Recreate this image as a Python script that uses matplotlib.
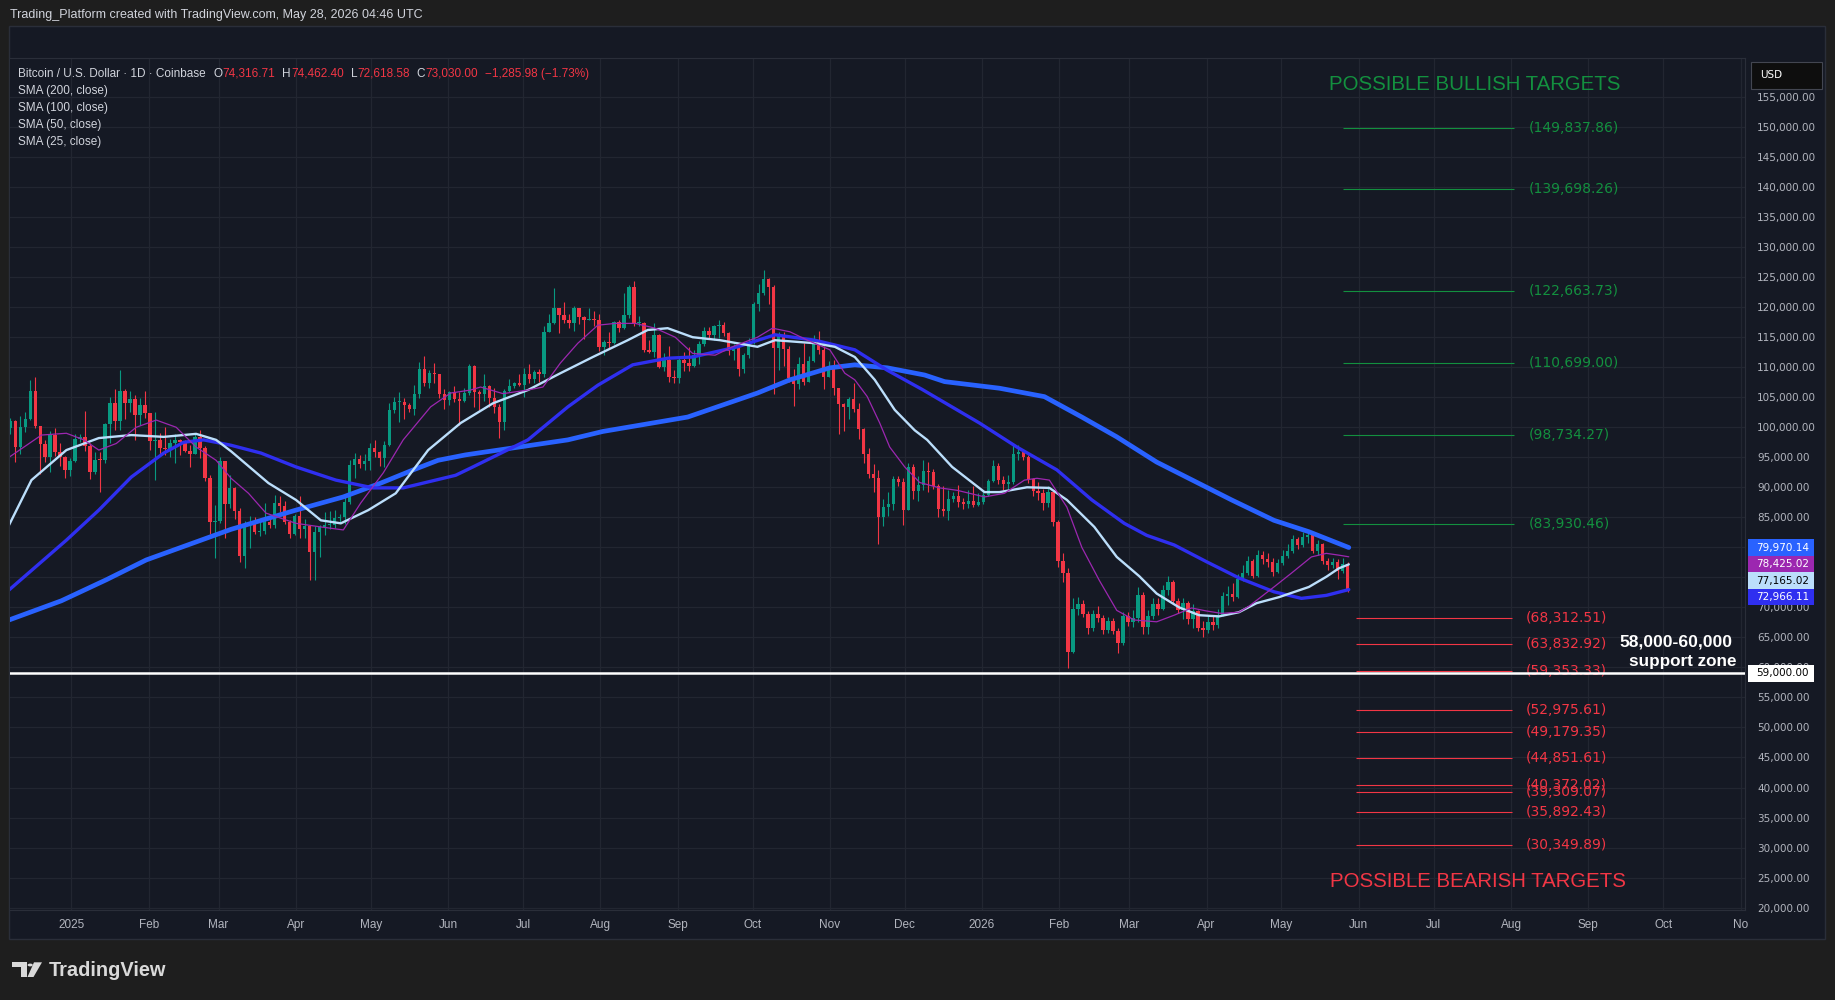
import numpy as np
import pandas as pd
import matplotlib
matplotlib.use("Agg")
import matplotlib.pyplot as plt
import matplotlib.dates as mdates
from matplotlib.patches import Rectangle, Circle, Polygon

W, H = 1835, 1000
UI = ['Liberation Sans Narrow', 'Liberation Sans', 'DejaVu Sans']

# ---------------- data (prices in thousands of USD) ----------------
# 2-day candles starting 2024-12-07; open of each bar = previous close
first_open = 99.8
close_k = [
    101.1, 96.7, 100.0, 101.4, 106.0, 100.2, 97.2, 95.1, 98.7, 95.8, 95.1, 92.8, 94.4,            # dec 24
    98.1, 98.3, 96.9, 92.5, 94.6, 94.5, 100.5, 104.1, 101.1, 106.1, 104.0, 104.7, 102.0, 103.7, 102.4,  # jan
    97.7, 97.9, 96.5, 96.4, 97.4, 97.9, 97.5, 96.1, 95.5, 98.3, 96.6, 91.5, 84.3, 84.4,           # feb
    94.3, 87.2, 89.9, 86.1, 78.5, 83.6, 83.9, 82.6, 82.7, 84.2, 83.8, 87.4, 86.9, 84.3, 82.3, 85.2,  # mar
    83.1, 83.5, 79.2, 82.6, 83.4, 83.7, 83.7, 84.9, 85.1, 87.5, 93.7, 94.7, 93.8, 94.3, 96.5,     # apr
    95.9, 94.8, 97.0, 102.9, 104.2, 104.2, 103.7, 103.1, 105.6, 109.7, 107.3, 109.0, 108.9, 105.6, 104.6,  # may
    105.8, 104.7, 104.3, 105.7, 110.2, 105.9, 105.5, 106.8, 104.9, 103.3, 100.9, 106.0, 106.9, 107.3, 107.1,  # jun
    108.9, 108.0, 109.2, 108.9, 115.9, 117.4, 119.8, 118.7, 117.9, 117.3, 119.9, 118.4, 117.9, 118.0, 117.8, 113.3,  # jul
    114.2, 114.1, 117.5, 116.5, 118.7, 123.3, 117.4, 117.4, 112.9, 112.5, 115.4, 110.1, 111.2, 108.4, 108.2,  # aug
    111.2, 110.7, 110.2, 112.0, 113.9, 116.1, 115.3, 116.8, 117.1, 115.7, 112.7, 113.3, 109.7, 112.1, 114.0,  # sep
    120.6, 122.4, 124.7, 123.3, 113.2, 115.2, 113.0, 108.2, 107.2, 110.5, 107.6, 111.0, 114.5, 112.9, 108.3, 110.1,  # oct
    106.6, 103.9, 103.3, 104.7, 103.0, 99.7, 95.5, 92.2, 91.5, 85.1, 86.8, 87.3, 91.3, 90.8, 86.3,  # nov
    93.4, 89.4, 90.4, 92.7, 92.5, 90.3, 86.4, 86.1, 88.1, 88.6, 87.6, 87.2, 87.8, 87.1, 87.5,      # dec
    88.8, 91.0, 93.6, 91.2, 90.5, 90.8, 95.6, 95.9, 95.0, 91.3, 89.4, 89.1, 87.4, 89.2, 84.2, 77.8,  # jan 26
    75.8, 62.6, 69.8, 70.5, 68.9, 66.5, 68.9, 68.3, 66.3, 67.8, 66.0, 64.0, 68.5, 67.5,           # feb
    68.3, 72.0, 66.8, 68.6, 70.6, 69.8, 72.9, 74.2, 71.0, 69.6, 70.8, 68.0, 69.4, 66.5, 66.2,     # mar
    67.6, 67.0, 68.8, 71.9, 72.3, 71.8, 74.8, 75.8, 77.8, 75.3, 78.7, 78.0, 77.5, 75.9, 77.4,     # apr
    78.5, 79.4, 81.4, 80.4, 81.8, 82.0, 79.4, 80.6, 77.7, 77.0, 77.6, 76.0, 77.3, 73.03,          # may
]
high_k = [
    101.5, 101.2, 101.9, 102.6, 107.8, 108.3, 98.1, 97.9, 99.3, 99.9, 97.3, 95.2, 94.9,
    98.9, 98.8, 102.7, 97.3, 95.8, 95.8, 100.7, 105.0, 106.3, 109.6, 106.4, 106.0, 105.3, 104.8, 106.0,
    102.0, 102.5, 99.0, 100.1, 98.0, 98.8, 98.0, 97.9, 97.0, 98.8, 99.5, 96.8, 92.0, 87.0,
    95.0, 94.4, 92.0, 90.0, 86.5, 84.4, 85.2, 85.0, 84.7, 87.4, 85.0, 88.7, 88.5, 87.8, 84.6, 85.5,
    88.5, 84.7, 83.8, 83.5, 83.8, 85.9, 86.0, 86.3, 85.5, 88.5, 94.6, 95.7, 95.3, 95.6, 97.4,
    97.9, 96.0, 97.7, 104.1, 105.0, 105.8, 104.8, 104.0, 107.1, 110.8, 111.9, 109.5, 110.7, 108.9, 106.3,
    106.0, 106.8, 105.9, 106.5, 110.6, 110.4, 106.2, 108.9, 107.0, 106.5, 103.9, 106.3, 108.0, 107.6, 108.8,
    109.8, 110.5, 109.5, 109.7, 116.8, 118.8, 123.2, 119.5, 120.9, 118.8, 120.2, 119.9, 118.5, 119.8, 119.3, 118.9,
    114.5, 115.8, 117.7, 117.9, 122.3, 123.7, 124.4, 118.5, 117.6, 114.6, 117.4, 115.6, 112.4, 113.5, 109.5,
    111.6, 112.6, 113.3, 112.8, 114.3, 116.7, 116.7, 117.0, 117.9, 117.6, 115.9, 113.9, 113.5, 112.3, 114.8,
    120.9, 123.9, 126.2, 124.9, 123.7, 115.8, 115.9, 113.6, 109.7, 111.7, 114.0, 111.9, 115.4, 116.0, 113.6, 111.1,
    111.2, 106.6, 104.1, 105.0, 107.3, 104.0, 99.9, 96.6, 93.8, 92.9, 88.1, 89.2, 91.9, 91.9, 91.6,
    94.1, 93.9, 91.8, 94.5, 94.2, 93.0, 90.5, 90.3, 89.5, 89.3, 90.4, 88.2, 89.5, 90.2, 89.0,
    89.2, 91.4, 94.6, 94.0, 91.8, 92.0, 97.3, 97.0, 96.0, 95.3, 91.5, 90.8, 89.8, 90.3, 89.4, 84.6,
    79.0, 76.5, 71.5, 71.8, 71.2, 69.4, 69.5, 70.2, 68.8, 68.4, 68.3, 66.5, 69.3, 69.2,
    69.5, 73.4, 72.5, 69.5, 71.6, 71.5, 73.8, 75.2, 74.6, 71.5, 71.6, 71.0, 70.5, 69.6, 67.8,
    68.5, 68.6, 69.7, 72.5, 73.6, 74.0, 75.5, 77.0, 78.6, 78.0, 79.6, 79.4, 79.0, 78.2, 78.0,
    79.6, 80.6, 82.0, 81.8, 82.6, 82.8, 82.3, 81.2, 80.8, 78.2, 78.3, 78.0, 78.2, 77.6,
]
low_k = [
    98.9, 94.2, 95.5, 99.2, 101.2, 99.9, 92.2, 94.2, 92.5, 95.2, 93.5, 91.5, 91.9,
    94.2, 97.5, 96.1, 91.3, 92.2, 89.3, 94.0, 97.3, 99.5, 99.5, 101.3, 102.5, 97.8, 100.3, 101.5,
    96.2, 91.2, 95.6, 95.3, 95.0, 94.1, 95.3, 95.8, 93.4, 95.5, 94.9, 91.1, 82.3, 78.2,
    84.0, 81.5, 86.5, 84.7, 77.6, 76.6, 79.9, 82.2, 81.9, 82.2, 83.2, 83.2, 85.9, 83.9, 81.6, 82.0,
    81.5, 81.6, 74.5, 74.6, 78.4, 82.0, 83.1, 83.2, 84.1, 83.9, 87.2, 91.6, 93.2, 92.9, 92.9,
    95.0, 93.6, 93.4, 96.9, 102.3, 100.8, 101.3, 102.6, 102.0, 104.9, 106.8, 106.6, 107.3, 104.9, 103.1,
    103.7, 104.2, 100.4, 104.2, 105.3, 103.4, 102.8, 104.3, 103.4, 102.4, 98.2, 99.6, 105.9, 106.6, 106.8,
    105.1, 107.3, 107.4, 107.5, 108.4, 116.9, 117.2, 115.7, 117.3, 116.6, 116.1, 117.2, 114.7, 117.8, 116.9, 112.7,
    112.1, 113.0, 113.9, 115.9, 116.4, 118.2, 116.8, 116.9, 112.6, 112.3, 111.7, 109.8, 109.3, 107.5, 107.3,
    107.3, 109.4, 109.4, 110.0, 110.6, 113.5, 114.7, 114.5, 114.8, 115.2, 112.0, 111.2, 108.6, 109.0, 111.5,
    113.9, 119.3, 122.0, 120.6, 105.5, 109.6, 110.2, 107.5, 103.5, 106.3, 107.0, 107.5, 110.8, 112.2, 106.3, 108.7,
    105.3, 98.9, 99.3, 101.4, 102.5, 98.0, 94.0, 91.6, 89.2, 80.5, 83.5, 85.3, 86.3, 90.2, 83.8,
    86.2, 88.1, 87.7, 89.5, 89.3, 89.8, 85.1, 85.3, 84.5, 87.6, 86.8, 86.4, 86.6, 86.7, 86.9,
    87.2, 88.6, 90.9, 90.6, 89.6, 89.7, 90.5, 94.6, 94.5, 90.7, 88.6, 87.9, 86.2, 86.8, 83.6, 76.8,
    74.3, 59.9, 62.4, 68.8, 68.4, 65.5, 66.0, 67.6, 65.6, 65.8, 65.5, 62.4, 63.7, 66.9,
    66.7, 67.5, 65.5, 65.6, 68.0, 68.8, 69.5, 72.0, 70.5, 69.0, 68.0, 67.3, 66.6, 66.0, 65.0,
    65.8, 66.3, 66.6, 68.5, 70.4, 71.1, 71.5, 74.4, 75.4, 74.9, 75.1, 77.2, 76.8, 75.3, 75.7,
    77.0, 78.2, 79.0, 79.8, 80.0, 80.7, 79.0, 78.8, 77.2, 76.2, 76.6, 74.8, 75.8, 72.6,
]

# moving averages (sparse points)
sma200_dates = ['2024-12-07', '2024-12-28', '2025-01-15', '2025-01-31', '2025-02-20', '2025-03-06',
                '2025-04-01', '2025-04-20', '2025-05-05', '2025-05-18', '2025-05-28', '2025-06-08',
                '2025-07-19', '2025-08-02', '2025-09-05', '2025-10-03', '2025-10-16', '2025-11-01',
                '2025-11-11', '2025-11-24', '2025-12-09', '2025-12-17', '2026-01-08', '2026-01-26',
                '2026-02-10', '2026-02-24', '2026-03-12', '2026-04-11', '2026-04-28', '2026-05-12',
                '2026-05-28']
sma200_k = [67.9, 71.1, 74.6, 77.9, 80.9, 83.0, 86.2, 88.4, 90.7, 92.9, 94.5, 95.4, 97.9, 99.3,
            101.7, 105.7, 107.9, 109.9, 110.4, 109.9, 108.7, 107.6, 106.5, 105.1, 101.7, 98.4,
            94.2, 87.9, 84.5, 82.6, 79.97014]

sma100_dates = ['2024-12-07', '2024-12-30', '2025-01-12', '2025-01-25', '2025-02-07', '2025-02-15',
                '2025-02-23', '2025-03-06', '2025-03-18', '2025-04-01', '2025-04-17', '2025-05-02',
                '2025-05-14', '2025-05-24', '2025-06-04', '2025-06-10', '2025-07-03', '2025-07-19',
                '2025-07-31', '2025-08-14', '2025-08-28', '2025-09-07', '2025-09-25', '2025-10-10',
                '2025-10-26', '2025-11-11', '2025-11-24', '2025-12-08', '2025-12-31', '2026-01-15',
                '2026-01-31', '2026-02-14', '2026-02-27', '2026-03-08', '2026-03-19', '2026-04-01',
                '2026-04-14', '2026-04-28', '2026-05-09', '2026-05-19', '2026-05-28']
sma100_k = [72.9, 81.2, 86.2, 91.7, 95.7, 97.5, 97.9, 97.0, 95.7, 93.4, 91.2, 89.9, 89.9, 90.9,
            92.0, 93.2, 97.9, 103.4, 107.0, 110.4, 111.5, 111.7, 113.4, 115.4, 114.5, 112.9,
            109.5, 106.3, 100.7, 96.7, 92.9, 87.9, 84.0, 82.0, 80.4, 77.6, 74.9, 72.6, 71.5,
            72.0, 72.96611]

sma50_dates = ['2024-12-07', '2024-12-16', '2024-12-30', '2025-01-12', '2025-01-25', '2025-02-07',
               '2025-02-20', '2025-02-28', '2025-03-06', '2025-03-21', '2025-04-01', '2025-04-11',
               '2025-04-19', '2025-04-30', '2025-05-11', '2025-05-24', '2025-06-06', '2025-06-19',
               '2025-07-03', '2025-07-16', '2025-07-29', '2025-08-12', '2025-08-20', '2025-08-28',
               '2025-09-07', '2025-09-18', '2025-10-03', '2025-10-10', '2025-10-26', '2025-11-03',
               '2025-11-11', '2025-11-19', '2025-11-27', '2025-12-05', '2025-12-10', '2025-12-20',
               '2026-01-02', '2026-01-08', '2026-01-19', '2026-01-28', '2026-02-04', '2026-02-15',
               '2026-02-24', '2026-03-05', '2026-03-12', '2026-03-21', '2026-03-29', '2026-04-06',
               '2026-04-14', '2026-04-21', '2026-04-30', '2026-05-12', '2026-05-19', '2026-05-24',
               '2026-05-28']
sma50_k = [83.7, 91.2, 96.2, 98.2, 98.7, 98.4, 98.9, 97.9, 96.0, 90.7, 87.9, 84.5, 84.0, 86.2,
           89.0, 96.2, 100.7, 104.0, 106.2, 109.0, 111.7, 114.5, 116.2, 116.5, 115.0, 114.5,
           113.4, 114.5, 114.0, 113.4, 111.7, 107.9, 102.9, 99.5, 97.9, 93.4, 89.2, 89.2, 90.0,
           89.9, 87.9, 83.4, 78.4, 75.2, 72.3, 70.0, 68.7, 68.5, 69.2, 70.7, 71.7, 73.4, 75.1,
           76.5, 77.16502]

sma25_dates = ['2024-12-07', '2024-12-20', '2024-12-30', '2025-01-06', '2025-01-12', '2025-01-19',
               '2025-01-27', '2025-02-04', '2025-02-12', '2025-02-20', '2025-02-28', '2025-03-06',
               '2025-03-13', '2025-03-20', '2025-04-01', '2025-04-11', '2025-04-20', '2025-04-27',
               '2025-05-06', '2025-05-14', '2025-05-25', '2025-06-02', '2025-06-10', '2025-06-14',
               '2025-06-23', '2025-07-03', '2025-07-09', '2025-07-16', '2025-07-23', '2025-07-31',
               '2025-08-07', '2025-08-15', '2025-08-23', '2025-08-31', '2025-09-07', '2025-09-16',
               '2025-09-23', '2025-10-03', '2025-10-09', '2025-10-16', '2025-10-23', '2025-11-01',
               '2025-11-07', '2025-11-11', '2025-11-16', '2025-11-21', '2025-11-25', '2025-12-01',
               '2025-12-07', '2025-12-15', '2025-12-22', '2026-01-02', '2026-01-10', '2026-01-18',
               '2026-01-23', '2026-01-28', '2026-02-04', '2026-02-10', '2026-02-17', '2026-02-24',
               '2026-03-03', '2026-03-12', '2026-03-19', '2026-03-26', '2026-04-01', '2026-04-07',
               '2026-04-14', '2026-04-18', '2026-04-28', '2026-05-05', '2026-05-13', '2026-05-19',
               '2026-05-24', '2026-05-28']
sma25_k = [95.0, 98.7, 99.0, 97.9, 96.2, 97.3, 100.0, 101.2, 100.0, 96.7, 94.5, 91.5, 89.0, 85.7,
           84.0, 83.4, 82.9, 87.4, 92.4, 97.9, 103.4, 105.7, 106.2, 106.7, 105.6, 106.2, 106.7,
           110.7, 114.0, 117.0, 117.3, 117.3, 116.5, 115.0, 112.3, 112.0, 113.4, 115.0, 116.5,
           115.9, 114.5, 112.9, 109.0, 107.9, 105.1, 100.7, 96.7, 93.4, 90.8, 89.9, 89.5, 88.4,
           89.0, 91.2, 91.5, 91.2, 86.7, 80.0, 74.5, 69.5, 67.9, 67.6, 68.7, 69.9, 69.4, 69.0,
           69.2, 70.2, 73.4, 75.7, 78.4, 79.0, 78.7, 78.42502]

bull_targets = [149837.86, 139698.26, 122663.73, 110699.00, 98734.27, 83930.46]
bear_targets = [68312.51, 63832.92, 59353.33, 52975.61, 49179.35, 44851.61,
                40372.02, 39309.07, 35892.43, 30349.89]
support_level = 59000

month_labels = ['2025', 'Feb', 'Mar', 'Apr', 'May', 'Jun', 'Jul', 'Aug', 'Sep', 'Oct', 'Nov', 'Dec',
                '2026', 'Feb', 'Mar', 'Apr', 'May', 'Jun', 'Jul', 'Aug', 'Sep', 'Oct', 'No']

# ---------------- styling ----------------
BG_OUT = '#1e1e1e'
BG = '#151924'
GRID = '#222631'
TXT = '#b2b5be'
UP, DOWN = '#089981', '#f23645'
GREEN, RED = '#13903f', '#f23645'
C200, C100, C50, C25 = '#2962ff', '#2f2ff0', '#bbdefb', '#9c27b0'


def fx(x):
    return x / W


def fy(y):
    return 1 - y / H


fig = plt.figure(figsize=(W / 100, H / 100), dpi=100, facecolor=BG_OUT)
fig.patches.append(Rectangle((fx(9), fy(939)), (1825 - 9) / W, (939 - 26) / H,
                             transform=fig.transFigure, fc=BG, ec='#2a2e39', lw=1, zorder=-5))
ax = fig.add_axes([fx(10), fy(910), (1745 - 10) / W, (910 - 58) / H])
ax.set_facecolor(BG)
ax.set_zorder(1)

base = mdates.date2num(pd.Timestamp('2025-01-01'))
xlim = (base - 24.6, base + 670.8)
ylim = (19600, 161500)

# candles
c = np.array(close_k) * 1000
hi = np.array(high_k) * 1000
lo = np.array(low_k) * 1000
o = np.r_[first_open * 1000, c[:-1]]
xs = mdates.date2num(pd.date_range('2024-12-07', periods=len(c), freq='2D')) + 0.5
cols = np.where(c >= o, UP, DOWN)
hi = np.maximum(hi, np.maximum(o, c))
lo = np.minimum(lo, np.minimum(o, c))
ax.vlines(xs, lo, hi, colors=cols, lw=0.8, zorder=2)
ax.bar(xs, np.maximum(np.abs(c - o), 150), bottom=np.minimum(o, c), width=1.35,
       color=cols, lw=0, zorder=3)

# moving averages
for d, v, col, lw in [(sma200_dates, sma200_k, C200, 3.4),
                      (sma100_dates, sma100_k, C100, 2.4),
                      (sma50_dates, sma50_k, C50, 1.7),
                      (sma25_dates, sma25_k, C25, 0.9)]:
    ax.plot(mdates.date2num(pd.to_datetime(d)), np.array(v) * 1000, color=col, lw=lw,
            solid_capstyle='round', solid_joinstyle='round', zorder=4)

# target levels
ax.hlines(bull_targets, base + 509.7, base + 578.2, colors=GREEN, lw=0.8, zorder=3)
ax.hlines(bear_targets, base + 514.9, base + 577.4, colors=RED, lw=0.8, zorder=3)
for v in bull_targets:
    ax.text(base + 584.1, v, f'({v:,.2f})', color=GREEN, fontsize=10, va='center', ha='left')
for v in bear_targets:
    ax.text(base + 582.9, v, f'({v:,.2f})', color=RED, fontsize=10, va='center', ha='left')
ax.text(base + 562.5, 157050, 'POSSIBLE BULLISH TARGETS', color=GREEN, fontsize=14.7,
        family=['Liberation Sans', 'DejaVu Sans'], ha='center', va='center')
ax.text(base + 563.6, 24420, 'POSSIBLE BEARISH TARGETS', color=RED, fontsize=14.7,
        family=['Liberation Sans', 'DejaVu Sans'], ha='center', va='center')
ax.axhline(support_level, color='white', lw=1.8, zorder=6)
ax.text(base + 665.9, 64270, '58,000-60,000', color='white', fontsize=12.6, fontweight='bold',
        family=['Liberation Sans', 'DejaVu Sans'], ha='right', va='center', zorder=7)
ax.text(base + 667.5, 61060, 'support zone', color='white', fontsize=12.3, fontweight='bold',
        family=['Liberation Sans', 'DejaVu Sans'], ha='right', va='center', zorder=7)

# axes, grid, ticks
ax.set_xlim(*xlim)
ax.set_ylim(*ylim)
months = mdates.date2num(pd.date_range('2025-01-01', '2026-11-01', freq='MS'))
ax.set_xticks(months)
ax.set_xticklabels(month_labels)
yt = np.arange(20000, 155001, 5000)
ax.set_yticks(yt)
ax.set_yticklabels([f'{v:,.2f}' for v in yt])
ax.yaxis.tick_right()
ax.grid(True, color=GRID, lw=0.9)
ax.set_axisbelow(True)
ax.tick_params(axis='y', length=0, pad=8.6, labelsize=7.5, labelcolor=TXT)
ax.tick_params(axis='x', length=0, pad=6.5, labelsize=8.5, labelcolor=TXT)
for lbl in ax.get_xticklabels():
    lbl.set_family(UI)
ax.spines['left'].set_visible(False)
for s in ['top', 'bottom', 'right']:
    ax.spines[s].set_color('#2a2e39')


# price label boxes on the right scale
def ypix(v):
    return H - ax.transData.transform((xlim[0], v))[1]


box_h = 16.5
last = [(sma200_k[-1] * 1000, C200, 'white'), (sma25_k[-1] * 1000, C25, 'white'),
        (sma50_k[-1] * 1000, C50, 'black'), (sma100_k[-1] * 1000, C100, 'white')]
prev = None
for v, col, tc in last:
    yc = ypix(v)
    if prev is not None:
        yc = max(yc, prev + box_h)
    prev = yc
    fig.patches.append(Rectangle((fx(1748), fy(yc + box_h / 2)), 66 / W, box_h / H,
                                 transform=fig.transFigure, fc=col, ec='none', zorder=5))
    fig.text(fx(1756), fy(yc), f'{v:,.2f}', color=tc, fontsize=7.5, va='center', ha='left', zorder=6)

yc = ypix(support_level)
fig.patches.append(Rectangle((fx(1748), fy(yc + box_h / 2)), 66 / W, box_h / H,
                             transform=fig.transFigure, fc='white', ec='none', zorder=5))
fig.text(fx(1756), fy(yc), f'{support_level:,.2f}', color='black', fontsize=7.5,
         va='center', ha='left', zorder=6)

# USD box
fig.patches.append(Rectangle((fx(1751), fy(89)), 71 / W, 27 / H, transform=fig.transFigure,
                             fc='#0e0e0e', ec='#434651', lw=0.8, zorder=5))
fig.text(fx(1760), fy(75.5), 'USD', color='white', fontsize=7.5, va='center', ha='left', zorder=6)

# header and legend
fig.text(fx(10), fy(15), 'Trading_Platform created with TradingView.com, May 28, 2026 04:46 UTC',
         color='#d1d4dc', fontsize=9, family=UI, va='center', ha='left')

renderer = fig.canvas.get_renderer()
GREY = '#d1d4dc'
pieces = [('Bitcoin / U.S. Dollar · 1D · Coinbase', GREY, 8), ('O', GREY, 0), ('74,316.71', RED, 7),
          ('H', GREY, 0), ('74,462.40', RED, 7), ('L', GREY, 0), ('72,618.58', RED, 7),
          ('C', GREY, 0), ('73,030.00', RED, 7), ('\u22121,285.98 (\u22121.73%)', RED, 0)]
xpos = 18
for s, col, gap in pieces:
    t = fig.text(fx(xpos), fy(74), s, color=col, fontsize=8.5, family=UI, va='center', ha='left',
                 zorder=6)
    bb = t.get_window_extent(renderer)
    xpos = bb.x1 + gap
for i, s in enumerate(['SMA (200, close)', 'SMA (100, close)', 'SMA (50, close)', 'SMA (25, close)']):
    fig.text(fx(18), fy(91 + i * 17), s, color=GREY, fontsize=8.5, family=UI, va='center', ha='left',
             zorder=6)

# TradingView logo
LOGO = '#d9d9d9'
fig.patches.append(Rectangle((fx(12.3), fy(967.3)), 14.4 / W, 5 / H, transform=fig.transFigure,
                             fc=LOGO, ec='none'))
fig.patches.append(Rectangle((fx(20.7), fy(977)), 6 / W, 15 / H, transform=fig.transFigure,
                             fc=LOGO, ec='none'))
fig.patches.append(Circle((fx(30.2), fy(965)), 2.6 / W, transform=fig.transFigure, fc=LOGO, ec='none'))
fig.patches.append(Polygon([(fx(34), fy(962.3)), (fx(42), fy(962.3)), (fx(33.5), fy(977)),
                            (fx(27.5), fy(977))], closed=True, transform=fig.transFigure,
                           fc=LOGO, ec='none'))
fig.text(fx(49), fy(970), 'TradingView', color=LOGO, fontsize=14.4, fontweight='bold',
         family=['Liberation Sans', 'DejaVu Sans'], va='center', ha='left')

fig.savefig('out.png', dpi=100, facecolor=BG_OUT)
